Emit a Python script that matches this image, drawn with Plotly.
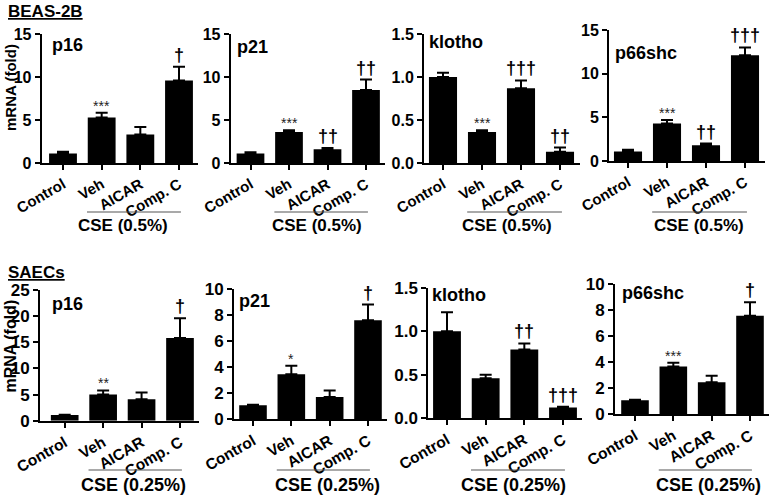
import plotly.graph_objects as go

W, H = 771, 495

categories = ["Control", "Veh", "AICAR", "Comp. C"]
genes = ["p16", "p21", "klotho", "p66shc"]
row_titles = ["BEAS-2B", "SAECs"]
cse_labels = ["CSE (0.5%)", "CSE (0.25%)"]
y_title = "mRNA (fold)"

# BEAS-2B (CSE 0.5%)
beas_p16 = [1.1, 5.3, 3.3, 9.6]
beas_p16_err = [0.2, 0.55, 0.9, 1.6]
beas_p16_sig = ["", "***", "", "†"]
beas_p21 = [1.1, 3.6, 1.6, 8.5]
beas_p21_err = [0.15, 0.2, 0.15, 1.2]
beas_p21_sig = ["", "***", "††", "††"]
beas_klotho = [1.0, 0.36, 0.87, 0.13]
beas_klotho_err = [0.05, 0.02, 0.09, 0.05]
beas_klotho_sig = ["", "***", "†††", "††"]
beas_p66 = [1.1, 4.3, 1.8, 12.1]
beas_p66_err = [0.2, 0.4, 0.2, 0.9]
beas_p66_sig = ["", "***", "††", "†††"]

# SAECs (CSE 0.25%)
saec_p16 = [1.1, 5.0, 4.1, 15.8]
saec_p16_err = [0.05, 0.8, 1.3, 3.8]
saec_p16_sig = ["", "**", "", "†"]
saec_p21 = [1.05, 3.45, 1.7, 7.6]
saec_p21_err = [0.05, 0.65, 0.5, 1.2]
saec_p21_sig = ["", "*", "", "†"]
saec_klotho = [1.0, 0.46, 0.79, 0.12]
saec_klotho_err = [0.22, 0.04, 0.07, 0.01]
saec_klotho_sig = ["", "", "††", "†††"]
saec_p66 = [1.05, 3.65, 2.45, 7.55]
saec_p66_err = [0.05, 0.3, 0.5, 1.05]
saec_p66_sig = ["", "***", "", "†"]

y_max = [[15, 15, 1.5, 15], [25, 10, 1.5, 10]]
y_dtick = [[5, 5, 0.5, 5], [5, 2, 0.5, 2]]

data = [
    [(beas_p16, beas_p16_err, beas_p16_sig), (beas_p21, beas_p21_err, beas_p21_sig),
     (beas_klotho, beas_klotho_err, beas_klotho_sig), (beas_p66, beas_p66_err, beas_p66_sig)],
    [(saec_p16, saec_p16_err, saec_p16_sig), (saec_p21, saec_p21_err, saec_p21_sig),
     (saec_klotho, saec_klotho_err, saec_klotho_sig), (saec_p66, saec_p66_err, saec_p66_sig)],
]

# layout geometry in pixels: (axis_x, control_center, compC_center, y_top, y_bottom, label_x, label_y)
geom = [
    [(41.7, 63, 179, 34, 163, 50, 45), (230.7, 250.5, 366, 34, 163, 235, 47),
     (424, 443, 560, 34, 163, 427, 42), (609, 628, 745, 30, 161, 613, 53)],
    [(40, 64.7, 180, 290, 420.7, 50, 304), (234, 253, 368, 289, 419, 237, 301),
     (428.3, 447, 563, 288, 418, 430, 295), (615, 635, 750, 284, 414, 620, 293)],
]
cse_line_y = [212, 470]
cse_text_y = [225, 485]
cse_text_x = [[1.55, 1.72, 1.65, 1.82], [1.8, 1.95, 1.72, 1.92]]
ytick_size = [16, 17]
xtick_size = [15, 15.5]
ytitle_pos = [(10.5, 87.5, 15), (9.5, 346, 16)]

FONT = "Liberation Sans, Arial, sans-serif"

fig = go.Figure()
annotations = []
shapes = []
layout = {}

k = 0
for r in range(2):
    for c in range(4):
        k += 1
        vals, errs, sigs = data[r][c]
        ax_x, c0, c3, yt, yb, lx, ly = geom[r][c]
        s = (c3 - c0) / 3.0
        x_right = c3 + 0.5 * s
        rng0 = (ax_x - c0) / s
        xa = "x" if k == 1 else f"x{k}"
        ya = "y" if k == 1 else f"y{k}"
        xkey = "xaxis" if k == 1 else f"xaxis{k}"
        ykey = "yaxis" if k == 1 else f"yaxis{k}"
        fig.add_trace(go.Bar(
            x=categories, y=vals, xaxis=xa, yaxis=ya, width=0.72,
            marker=dict(color="black", line=dict(width=0)),
            error_y=dict(type="data", array=errs, arrayminus=[0] * 4, symmetric=False,
                         color="black", thickness=2, width=6),
            showlegend=False, hoverinfo="skip", cliponaxis=False,
        ))
        layout[xkey] = dict(
            domain=[ax_x / W, x_right / W], anchor=ya, range=[rng0, 3.5],
            showline=True, linecolor="black", linewidth=2, ticks="outside",
            ticklen=5, tickwidth=2, tickcolor="black", tickangle=-30,
            tickfont=dict(family=FONT, size=xtick_size[r], color="black", weight="bold"),
            showgrid=False, zeroline=False, fixedrange=True, automargin=False,
        )
        layout[ykey] = dict(
            domain=[1 - yb / H, 1 - yt / H], anchor=xa, range=[0, y_max[r][c]],
            dtick=y_dtick[r][c], tick0=0,
            tickformat=".1f" if y_max[r][c] < 2 else "d",
            showline=True, linecolor="black", linewidth=2, ticks="outside",
            ticklen=5, tickwidth=2, tickcolor="black",
            tickfont=dict(family=FONT, size=ytick_size[r], color="black", weight="bold"),
            showgrid=False, zeroline=False, fixedrange=True, automargin=False,
        )
        # gene label
        annotations.append(dict(
            text=f"<b>{genes[c]}</b>", xref="paper", yref="paper",
            x=lx / W, y=1 - ly / H, xanchor="left", yanchor="middle", showarrow=False,
            font=dict(family=FONT, size=18, color="black"),
        ))
        # significance marks
        for i in range(4):
            if sigs[i]:
                is_star = "*" in sigs[i]
                annotations.append(dict(
                    text=sigs[i] if is_star else f"<b>{sigs[i]}</b>",
                    xref=xa, yref=ya, x=categories[i], y=vals[i] + errs[i],
                    xanchor="center", yanchor="bottom", showarrow=False,
                    yshift=-3 if is_star else 0,
                    font=dict(family=FONT, size=14 if is_star else 18,
                              color="#222" if is_star else "black"),
                ))
        # CSE bracket line and label
        shapes.append(dict(
            type="line", xref=xa, yref="paper", x0=0.62, x1=3.05,
            y0=1 - cse_line_y[r] / H, y1=1 - cse_line_y[r] / H,
            line=dict(color="#555", width=1.2),
        ))
        annotations.append(dict(
            text=f"<b>{cse_labels[r]}</b>", xref=xa, yref="paper",
            x=cse_text_x[r][c], y=1 - cse_text_y[r] / H, xanchor="center", yanchor="middle",
            showarrow=False, font=dict(family=FONT, size=17 + r, color="black"),
        ))

# row titles
for r, (ty, name) in enumerate([(11.5, row_titles[0]), (272, row_titles[1])]):
    annotations.append(dict(
        text=f"<b><u>{name}</u></b>", xref="paper", yref="paper",
        x=6 / W, y=1 - ty / H, xanchor="left", yanchor="middle", showarrow=False,
        font=dict(family=FONT, size=17, color="black"),
    ))

# y-axis titles
for (tx, ty, fs) in ytitle_pos:
    annotations.append(dict(
        text=f"<b>{y_title}</b>", xref="paper", yref="paper", textangle=-90,
        x=tx / W, y=1 - ty / H, xanchor="center", yanchor="middle", showarrow=False,
        font=dict(family=FONT, size=fs, color="black"),
    ))

fig.update_layout(
    width=W, height=H,
    margin=dict(l=0, r=0, t=0, b=0, pad=0, autoexpand=False),
    paper_bgcolor="white", plot_bgcolor="white",
    annotations=annotations, shapes=shapes, bargap=0.28,
    **layout,
)
fig.write_html("out.html", config={"displayModeBar": False},
               post_script="document.body.style.margin='0px';")
